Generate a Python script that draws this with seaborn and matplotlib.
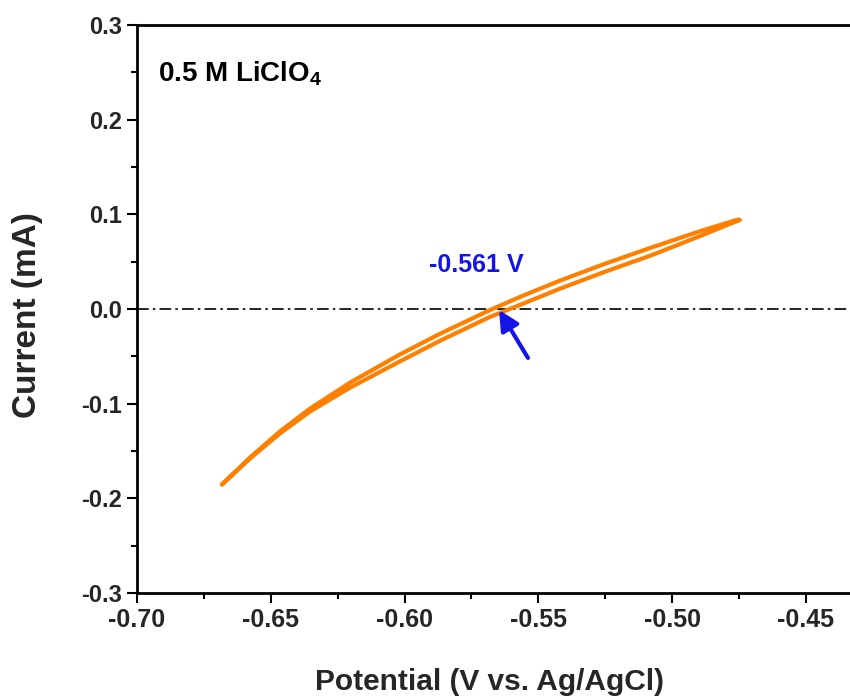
import numpy as np
import pandas as pd
import matplotlib
matplotlib.use("Agg")
import matplotlib.pyplot as plt
import seaborn as sns
from matplotlib.ticker import MultipleLocator

# ---- data ----
# forward scan (upper branch), left to right
potential_fwd = [-0.6682, -0.6578, -0.6466, -0.6354, -0.6204, -0.6017, -0.5868,
                 -0.5681, -0.5550, -0.5419, -0.5251, -0.5083, -0.4896, -0.4754]
current_fwd   = [-0.1853, -0.1569, -0.1294, -0.1053, -0.0778, -0.0479, -0.0262,
                 -0.0011, 0.0150, 0.0300, 0.0478, 0.0644, 0.0822, 0.0945]
# reverse scan (lower branch), right to left
potential_rev = [-0.4747, -0.4803, -0.4896, -0.4990, -0.5083, -0.5251, -0.5419, -0.5550,
                 -0.5681, -0.5868, -0.6017, -0.6204, -0.6354, -0.6466, -0.6578, -0.6682]
current_rev   = [0.0940, 0.0878, 0.0770, 0.0665, 0.0562, 0.0394, 0.0215, 0.0065,
                 -0.0084, -0.0336, -0.0553, -0.0831, -0.1084, -0.1315, -0.1580, -0.1853]
x_ticks = [-0.70, -0.65, -0.60, -0.55, -0.50, -0.45]
y_ticks = [-0.3, -0.2, -0.1, 0.0, 0.1, 0.2, 0.3]
zero_potential = -0.561
title_text = "0.5 M LiClO"

sns.set_theme(style="white")
plt.rcParams["font.family"] = ["Liberation Sans", "DejaVu Sans"]
plt.rcParams["font.weight"] = "bold"
plt.rcParams["mathtext.fontset"] = "custom"
plt.rcParams["mathtext.bf"] = "Liberation Sans:bold"
plt.rcParams["mathtext.rm"] = "Liberation Sans:bold"

df = pd.DataFrame({
    "Potential": potential_fwd + potential_rev,
    "Current": current_fwd + current_rev,
})

fig = plt.figure(figsize=(8.5, 7), dpi=100)
ax = fig.add_axes([137/850, 1-593/700, 1-137/850, (593-25)/700])

orange = "#FF8000"
sns.lineplot(data=df, x="Potential", y="Current", sort=False, estimator=None,
             color=orange, linewidth=3.0, ax=ax, solid_capstyle="round",
             solid_joinstyle="round")

ax.axhline(0.0, color="black", linewidth=1.2, linestyle=(0, (7, 2.5, 1.5, 2.5)), zorder=1)

ax.set_xlim(-0.70, -0.70 + 713/2676)
ax.set_ylim(-0.3, 0.3)
ax.set_xticks(x_ticks)
ax.set_yticks(y_ticks)
ax.set_xticklabels([f"{v:.2f}" for v in x_ticks])
ax.set_yticklabels([f"{v:.1f}" for v in y_ticks])
ax.xaxis.set_minor_locator(MultipleLocator(0.025))
ax.yaxis.set_minor_locator(MultipleLocator(0.05))

for side in ["left", "bottom", "top"]:
    ax.spines[side].set_visible(True)
    ax.spines[side].set_color("black")
    ax.spines[side].set_linewidth(2.0)
ax.spines["right"].set_visible(False)

ax.tick_params(which="major", direction="out", length=7, width=1.5, color="black",
               pad=4, top=False, right=False, bottom=True, left=True)
ax.tick_params(which="minor", direction="out", length=4, width=1.5, color="black",
               top=False, right=False, bottom=True, left=True)
ax.tick_params(axis="x", which="major", labelsize=18)
ax.tick_params(axis="y", which="major", labelsize=17)
for lab in ax.get_xticklabels() + ax.get_yticklabels():
    lab.set_fontweight("bold")

ax.set_xlabel("Potential (V vs. Ag/AgCl)", fontsize=21.5, fontweight="bold")
ax.set_ylabel("Current (mA)", fontsize=24, fontweight="bold")
ax.xaxis.set_label_coords(0.495, -0.132)
ax.yaxis.set_label_coords(-0.132, 0.489)

ax.text(0.029, 0.915, title_text + r"$_{\mathbf{4}}$", transform=ax.transAxes,
        fontsize=20, fontweight="bold", ha="left", va="center", color="black")

blue = "#1414E6"
ax.annotate("", xy=(-0.5647, -0.001), xytext=(-0.5539, -0.0517),
            arrowprops=dict(arrowstyle="-|>,head_length=1.0,head_width=0.5",
                            color=blue, lw=3, shrinkA=0, shrinkB=0))
ax.text(-0.5733, 0.0465, f"{zero_potential:.3f} V", color=blue, fontsize=18,
        fontweight="bold", ha="center", va="center")

fig.savefig("out.png", dpi=100, facecolor="white")
